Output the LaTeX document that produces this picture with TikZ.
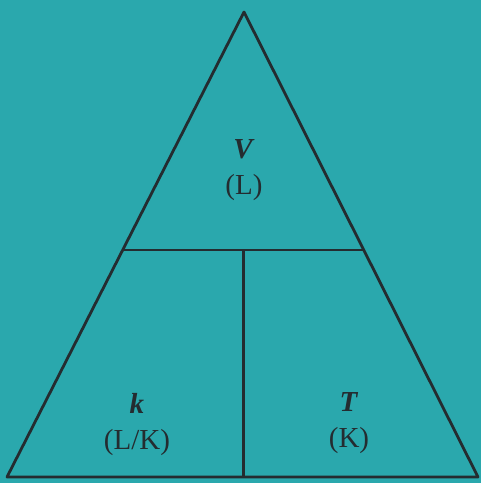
\documentclass[tikz,border=0pt]{standalone}
\usepackage{fontspec}
\setmainfont{Liberation Serif}
\usepackage{tikz}
\usetikzlibrary{calc}
\definecolor{tealbg}{RGB}{42,168,173}
\definecolor{inkgray}{RGB}{36,44,48}

\begin{document}
\begin{tikzpicture}[x=1pt, y=-1pt,
    every node/.style={font=\fontsize{29}{33}\selectfont, inkgray, align=center},
    edge/.style={inkgray, line width=2.8pt, line join=round}]
  % Background
  \fill[tealbg] (0,0) rectangle (481,483);
  \useasboundingbox (0,0) rectangle (481,483);
  % Corners
  \coordinate (apex) at (244,12);
  \coordinate (bl) at (7,477);
  \coordinate (br) at (478,477);
  \coordinate (ml) at ($(apex)!0.512!(bl)$);
  \coordinate (mr) at ($(apex)!0.512!(br)$);
  \coordinate (mc) at ($(ml)!0.5!(mr)$);
  \coordinate (bc) at (mc |- bl);
  % Triangle and dividers
  \draw[edge] (apex) -- (bl) -- (br) -- cycle;
  \draw[edge] (ml) -- (mr);
  \draw[edge] (mc) -- (bc);
  % Labels
  \node (V) at (244,170) {\textbf{\textit{V}}\\[3pt](L)};
  \node (k) at (137,425) {\textbf{\textit{k}}\\[3pt](L/K)};
  \node (T) at (349,423) {\textbf{\textit{T}}\\[3pt](K)};
\end{tikzpicture}
\end{document}
